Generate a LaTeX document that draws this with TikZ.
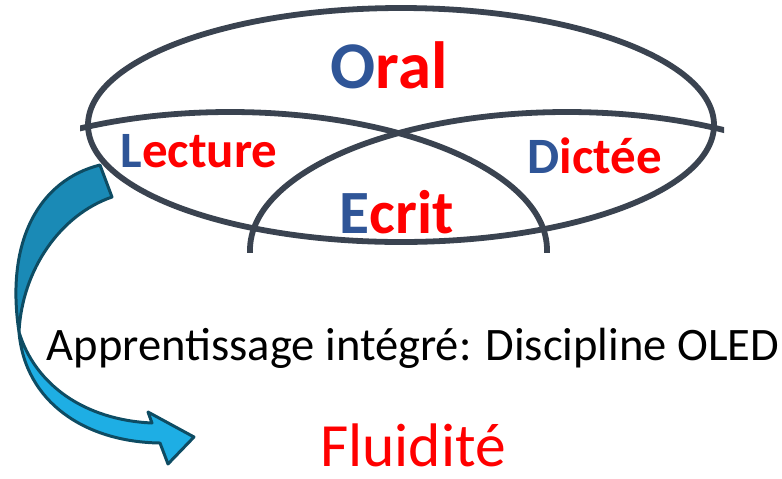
\documentclass[tikz,border=0pt]{standalone}
\usepackage{fontspec}
\setmainfont{Carlito}
\usepackage{tikz}

\definecolor{ringgray}{HTML}{3A4350}
\definecolor{oblue}{HTML}{2F5597}
\definecolor{ored}{HTML}{FF0000}
\definecolor{arrowdark}{HTML}{1A8AB6}
\definecolor{arrowlight}{HTML}{1EAEE4}
\definecolor{arrowline}{HTML}{0E4C63}

\tikzset{
  ring/.style={draw=ringgray,line width=3.3pt},
  venn/.style={font=\bfseries\fontsize{#1}{#1}\selectfont,anchor=base,text=ored,inner sep=0pt},
  venn/.default=29,
  plain/.style={font=\fontsize{#1}{#1}\selectfont,anchor=base,inner sep=0pt},
  arrowpart/.style={draw=arrowline,line width=1.7pt,line join=round}
}

\begin{document}
\begin{tikzpicture}[x=0.02cm,y=-0.02cm]
    \useasboundingbox (0,0) rectangle (782,478);
    % the three rings, cut off at the bottom
    \begin{scope}
        \clip (80,0) rectangle (724,252);
        \draw[ring] (401,125) ellipse [x radius=313,y radius=117];
        \draw[ring] (230,250) ellipse [x radius=317,y radius=138];
        \draw[ring] (567,250) ellipse [x radius=317,y radius=138];
    \end{scope}
    % curved block arrow, twisted half way
    \coordinate (twist) at (19,332);
    \filldraw[arrowpart,fill=arrowdark] (100,165) .. controls (40,180) and (5,240) .. (twist)
        .. controls (22,270) and (60,215) .. (112,197) -- cycle;
    \filldraw[arrowpart,fill=arrowlight] (twist) .. controls (25,402) and (85,442) .. (160,443)
        -- (168,464) -- (194,437) -- (148,412) -- (152,423)
        .. controls (85,420) and (35,385) .. (twist) -- cycle;
    % labels
    \node[venn=38] (oral) at (389,88) {\textcolor{oblue}{O}ral};
    \node[venn] (lecture) at (199,167) {\textcolor{oblue}{L}ecture};
    \node[venn] (dictee) at (595,173) {\textcolor{oblue}{D}ictée};
    \node[venn=35] (ecrit) at (397,233) {\textcolor{oblue}{E}crit};
    \node[plain=26.5] (apprentissage) at (413,360) {Apprentissage intégré: Discipline OLED};
    \node[plain=35,text=ored] (fluidite) at (413,466) {Fluidité};
\end{tikzpicture}
\end{document}
